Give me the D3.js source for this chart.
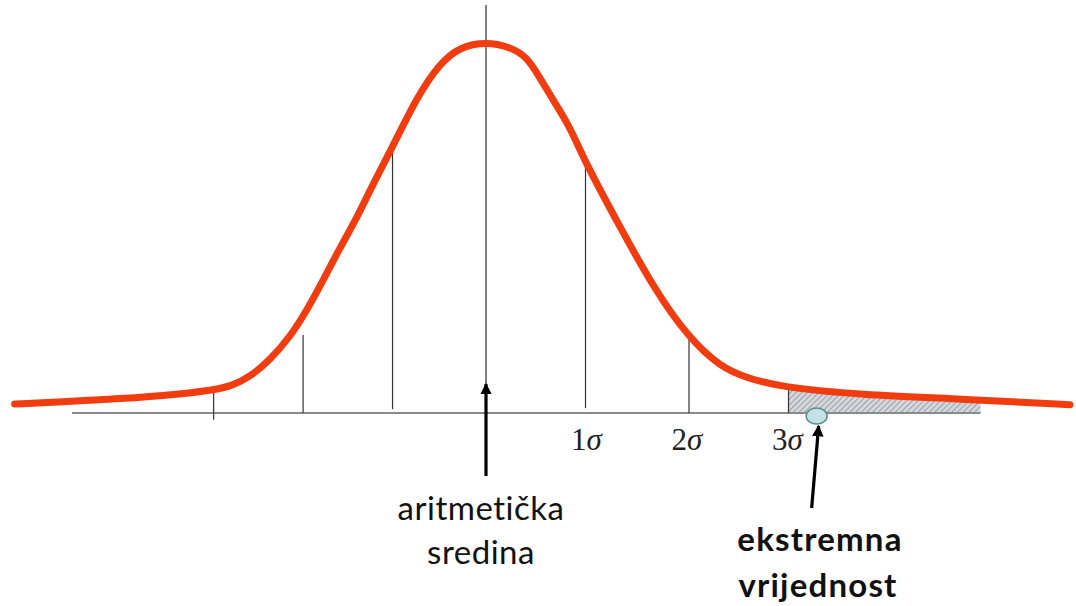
<!DOCTYPE html>
<html>
<head>
<meta charset="utf-8">
<script src="https://cdn.jsdelivr.net/npm/d3@7"></script>
<style>
  html, body { margin: 0; padding: 0; background: #fff; }
  svg { display: block; }
</style>
</head>
<body>
<svg id="chart" width="1076" height="606"></svg>
<script>
// Distribution outline: position in standard deviations, relative height (peak = 1)
const curveSigma = [-4.69, -4.24, -3.64, -3.04, -2.71, -2.53, -2.35, -2.15, -1.95, -1.78,
                    -1.62, -1.45, -1.28, -1.12, -0.935, -0.687, -0.458, -0.259, 0, 0.239,
                    0.408, 0.537, 0.667, 0.836, 0.985, 1.333, 1.68, 2.01, 2.33, 2.60,
                    2.93, 3.73, 4.72, 5.81];
const curveHeight = [0.024, 0.030, 0.038, 0.051, 0.062, 0.073, 0.097, 0.143, 0.205, 0.278,
                     0.358, 0.447, 0.528, 0.620, 0.714, 0.852, 0.943, 0.987, 1.0, 0.987,
                     0.960, 0.903, 0.844, 0.771, 0.677, 0.501, 0.332, 0.205, 0.124, 0.094,
                     0.070, 0.049, 0.038, 0.022];

// Vertical guide lines under the curve
const guideSigma = [-2.71, -1.82, -0.93, 0.99, 2.02, 3.01];
const guideTop = [0.062, 0.210, 0.705, 0.677, 0.205, 0.075];
const guideBottom = [-0.018, 0, 0.01, 0.013, 0, 0];

// Labelled sigma ticks
const tickSigma = [1, 2, 3];
const tickLabels = ["1", "2", "3"];

// Extreme-value tail and baseline extent
const tailRange = [3.01, 4.92];
const axisRange = [-4.12, 4.92];
const extremeValue = 3.29;

const svg = d3.select("#chart");

const x = d3.scaleLinear().domain([-3, 3]).range([184.5, 787.5]);
const y = d3.scaleLinear().domain([0, 1]).range([413, 42]);

const pts = curveSigma.map((s, i) => ({ s, h: curveHeight[i] }));

const defs = svg.append("defs");
const pat = defs.append("pattern")
  .attr("id", "hatch")
  .attr("patternUnits", "userSpaceOnUse")
  .attr("width", 4).attr("height", 4)
  .attr("patternTransform", "rotate(45)");
pat.append("rect").attr("width", 4).attr("height", 4).attr("fill", "#d4d8de");
pat.append("line").attr("x1", 0).attr("y1", 0).attr("x2", 0).attr("y2", 4)
  .attr("stroke", "#8d9098").attr("stroke-width", 1.6);

defs.append("clipPath").attr("id", "tailClip")
  .append("rect")
  .attr("x", x(tailRange[0])).attr("y", 0)
  .attr("width", x(tailRange[1]) - x(tailRange[0])).attr("height", 606);

defs.append("marker")
  .attr("id", "head")
  .attr("viewBox", "0 0 10 10")
  .attr("refX", 9).attr("refY", 5)
  .attr("markerWidth", 3.6).attr("markerHeight", 3.6)
  .attr("markerUnits", "strokeWidth")
  .attr("orient", "auto")
  .append("path").attr("d", "M0,0L10,5L0,10Z").attr("fill", "#000");

// B-spline through the read-off points keeps the outline free of small kinks
const smooth = d3.curveBasis;

// Hatched tail area
svg.append("path")
  .datum(pts)
  .attr("clip-path", "url(#tailClip)")
  .attr("fill", "url(#hatch)")
  .attr("d", d3.area().x(d => x(d.s)).y0(y(0)).y1(d => y(d.h)).curve(smooth));

// Baseline
svg.append("line")
  .attr("x1", x(axisRange[0])).attr("x2", x(axisRange[1]))
  .attr("y1", y(0)).attr("y2", y(0))
  .attr("stroke", "#8a8a8a").attr("stroke-width", 2);

// Mean line
svg.append("line")
  .attr("x1", x(0)).attr("x2", x(0))
  .attr("y1", 5).attr("y2", y(0))
  .attr("stroke", "#808080").attr("stroke-width", 2);

// Guide lines
svg.selectAll("line.guide")
  .data(guideSigma)
  .join("line")
  .attr("class", "guide")
  .attr("x1", d => x(d)).attr("x2", d => x(d))
  .attr("y1", (d, i) => y(guideTop[i]))
  .attr("y2", (d, i) => y(guideBottom[i]))
  .attr("stroke", "#333").attr("stroke-width", 1.2);

// Distribution curve
svg.append("path")
  .datum(pts)
  .attr("fill", "none")
  .attr("stroke", "#f03c0f")
  .attr("stroke-width", 7)
  .attr("stroke-linecap", "round")
  .attr("stroke-linejoin", "round")
  .attr("d", d3.line().x(d => x(d.s)).y(d => y(d.h)).curve(smooth));

// Sigma tick labels
const tl = svg.selectAll("text.tick")
  .data(tickSigma)
  .join("text")
  .attr("class", "tick")
  .attr("x", d => x(d))
  .attr("y", 450)
  .attr("text-anchor", "middle")
  .attr("font-family", "'Liberation Serif', 'DejaVu Serif', serif")
  .attr("font-size", 31)
  .attr("fill", "#222");
tl.append("tspan").text((d, i) => tickLabels[i]);
tl.append("tspan").attr("font-style", "italic").text("σ");

// Extreme value marker
svg.append("ellipse")
  .attr("cx", x(extremeValue)).attr("cy", 416)
  .attr("rx", 10.5).attr("ry", 8)
  .attr("fill", "#c4e2e4")
  .attr("stroke", "#5d8c90").attr("stroke-width", 1.5);

// Arrows
svg.append("line")
  .attr("x1", x(0)).attr("y1", 476)
  .attr("x2", x(0)).attr("y2", 384)
  .attr("stroke", "#000").attr("stroke-width", 3.2)
  .attr("marker-end", "url(#head)");

svg.append("line")
  .attr("x1", x(extremeValue) - 5).attr("y1", 508)
  .attr("x2", x(extremeValue) + 2).attr("y2", 426)
  .attr("stroke", "#000").attr("stroke-width", 3.2)
  .attr("marker-end", "url(#head)");

// Annotations
const font = "Lato, 'Open Sans', sans-serif";
const meanLabel = svg.append("text")
  .attr("text-anchor", "middle")
  .attr("font-family", font).attr("font-size", 33)
  .attr("letter-spacing", 0.5).attr("fill", "#111");
meanLabel.append("tspan").attr("x", 481).attr("y", 520).text("aritmetička");
meanLabel.append("tspan").attr("x", 481).attr("y", 564).text("sredina");

const extLabel = svg.append("text")
  .attr("text-anchor", "middle")
  .attr("font-family", font).attr("font-size", 33).attr("font-weight", "bold")
  .attr("letter-spacing", 1.2).attr("fill", "#111");
extLabel.append("tspan").attr("x", 820).attr("y", 551).text("ekstremna");
extLabel.append("tspan").attr("x", 818).attr("y", 597).text("vrijednost");
</script>
</body>
</html>
